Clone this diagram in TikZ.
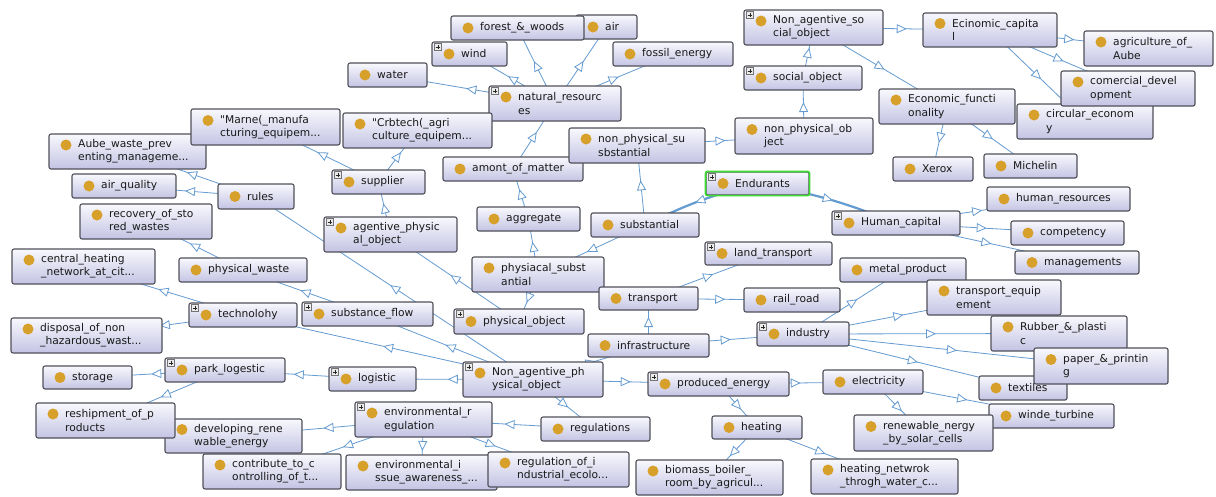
\documentclass[tikz,border=0pt]{standalone}
\usepackage{fontspec}
\newfontfamily\lblfont{DejaVu Sans}
\usetikzlibrary{arrows.meta,decorations.markings,backgrounds}
\definecolor{eblue}{RGB}{100,155,208}
\definecolor{bul}{RGB}{214,160,42}
\definecolor{bord}{RGB}{80,80,90}
\definecolor{ftop}{RGB}{248,248,253}
\definecolor{fbot}{RGB}{196,196,228}
\definecolor{txt}{RGB}{25,25,25}
\definecolor{selgreen}{RGB}{60,220,50}
\tikzset{
  cbox/.style={draw=bord, line width=1.1pt, rounded corners=2pt, top color=ftop, bottom color=fbot, inner sep=0pt},
  dotnode/.style={circle, fill=bul, inner sep=0pt, minimum size=11pt},
  lbl/.style={anchor=west, inner sep=0pt, align=left, text=txt, font=\lblfont\fontsize{10.7}{13.3}\selectfont},
  plusbox/.style={draw=black!55, fill=black!8, line width=0.4pt, minimum size=7pt, inner sep=0pt,
    path picture={\draw[line width=0.7pt, black!85]
      ([xshift=1.4pt]path picture bounding box.west) -- ([xshift=-1.4pt]path picture bounding box.east)
      ([yshift=-1.4pt]path picture bounding box.north) -- ([yshift=1.4pt]path picture bounding box.south);}},
  isa/.style={draw=eblue, line width=0.8pt, postaction={decorate},
    decoration={markings, mark=at position 0.5 with {\arrow[xshift=5pt]{Triangle[length=10pt,width=9pt,fill=white,line width=0.8pt]}}}},
  selarc/.style={isa, line width=2.2pt},
}
% one-line class box: name x1 y1 x2 y2 text
\newcommand\mkone[6]{%
  \node[cbox, minimum width={#4-#2}, minimum height={#5-#3}] (#1) at ({(#2+#4)/2},{(#3+#5)/2}) {};
  \node[dotnode] (#1-d) at ({#2+17},{(#3+#5)/2}) {};
  \node[lbl] (#1-t) at ({#2+29},{(#3+#5)/2}) {#6};
}
% two-line class box
\newcommand\mktwo[6]{%
  \node[cbox, minimum width={#4-#2}, minimum height={#5-#3}] (#1) at ({(#2+#4)/2},{(#3+#5)/2}) {};
  \node[dotnode] (#1-d) at ({#2+17},{(#3+#5)/2-6.5}) {};
  \node[lbl] (#1-t) at ({#2+29},{(#3+#5)/2}) {#6};
}
\newcommand\mkplus[1]{\node[plusbox] (#1-p) at ([xshift=6.5pt,yshift=-5.5pt]#1.north west) {};}
\begin{document}
\begin{tikzpicture}[x=1pt,y=-1pt]
\useasboundingbox (0,0) rectangle (1216,496);
% ---------- nodes ----------
\mkone{water}{348}{63}{427}{87}{water}
\mkone{air}{576}{15}{637}{39}{air}
\mkone{forest}{451}{16}{584}{40}{forest\_\&\_woods}
\mkone{wind}{432}{42}{507}{66}{wind}\mkplus{wind}
\mkone{fossil}{613}{42}{733}{66}{fossil\_energy}
\mktwo{nr}{489}{86}{621}{121}{natural\_resourc\\es}\mkplus{nr}
\mktwo{aube}{49}{134}{206}{169}{Aube\_waste\_prev\\enting\_manageme...}
\mktwo{marne}{191}{109}{340}{145}{"Marne(\_manufa\\cturing\_equipem...}
\mktwo{crb}{343}{113}{492}{148}{"Crbtech(\_agri\\culture\_equipem...}
\mkone{aq}{72}{174}{176}{198}{air\_quality}
\mkone{rules}{218}{184}{294}{209}{rules}
\mkone{supplier}{332}{170}{425}{194}{supplier}\mkplus{supplier}
\mktwo{recovery}{80}{204}{212}{239}{recovery\_of\_sto\\red\_wastes}
\mktwo{apo}{324}{217}{457}{252}{agentive\_physic\\al\_object}\mkplus{apo}
\mkone{amont}{443}{157}{583}{181}{amont\_of\_matter}
\mktwo{nps}{569}{128}{705}{163}{non\_physical\_su\\sbstantial}
\mktwo{npo}{735}{118}{873}{154}{non\_physical\_ob\\ject}
\mkone{so}{744}{66}{862}{90}{social\_object}\mkplus{so}
\mktwo{naso}{744}{10}{883}{45}{Non\_agentive\_so\\cial\_object}\mkplus{naso}
\mktwo{ec}{923}{13}{1057}{47}{Ecinomic\_capita\\l}
\mktwo{aoa}{1084}{31}{1213}{66}{agriculture\_of\_\\Aube}
\mktwo{ce}{1017}{104}{1153}{139}{circular\_econom\\y}
\mktwo{cd}{1061}{71}{1195}{106}{comercial\_devel\\opment}
\mktwo{ef}{879}{89}{1015}{124}{Economic\_functi\\onality}
\mkone{xerox}{893}{157}{973}{181}{Xerox}
\mkone{michelin}{984}{154}{1077}{178}{Michelin}
\mkone{endur}{706}{172}{809}{195}{Endurants}\mkplus{endur}
\draw[selgreen, line width=1.6pt, rounded corners=2pt] (endur.north west) rectangle (endur.south east);
\mkone{aggregate}{477}{207}{580}{231}{aggregate}
\mkone{substantial}{591}{213}{699}{237}{substantial}
\mkone{hr}{987}{187}{1130}{211}{human\_resources}
\mkone{hc}{832}{211}{960}{235}{Human\_capital}\mkplus{hc}
\mkone{comp}{1011}{221}{1124}{245}{competency}
\mkone{mgmt}{1015}{251}{1139}{274}{managements}
\mktwo{ch}{12}{249}{155}{284}{central\_heating\\\_network\_at\_cit...}
\mkone{pw}{179}{258}{307}{282}{physical\_waste}
\mkone{tech}{189}{303}{297}{327}{technolohy}\mkplus{tech}
\mkone{sf}{302}{302}{433}{326}{substance\_flow}\mkplus{sf}
\mktwo{disp}{11}{318}{162}{353}{disposal\_of\_non\\\_hazardous\_wast...}
\mkone{storage}{43}{366}{132}{389}{storage}
\mkone{pl}{165}{358}{285}{382}{park\_logestic}\mkplus{pl}
\mkone{logistic}{329}{367}{416}{391}{logistic}\mkplus{logistic}
\mktwo{dev}{165}{419}{302}{453}{developing\_rene\\wable\_energy}
\mktwo{reship}{36}{403}{175}{438}{reshipment\_of\_p\\roducts}
\mktwo{er}{355}{402}{492}{437}{environmental\_r\\egulation}\mkplus{er}
\mktwo{contrib}{203}{454}{341}{489}{contribute\_to\_c\\ontrolling\_of\_t...}
\mktwo{ei}{346}{455}{497}{490}{environmental\_i\\ssue\_awareness\_...}
\mktwo{ri}{488}{452}{629}{487}{regulation\_of\_i\\ndustrial\_ecolo...}
\mkone{regs}{541}{417}{650}{441}{regulations}
\mktwo{ps}{472}{257}{604}{292}{physiacal\_subst\\antial}
\mkone{po}{454}{309}{584}{334}{physical\_object}\mkplus{po}
\mkone{transport}{599}{287}{698}{310}{transport}
\mkone{lt}{705}{242}{832}{265}{land\_transport}\mkplus{lt}
\mkone{rr}{744}{288}{840}{312}{rail\_road}
\mkone{infra}{588}{334}{709}{357}{infrastructure}
\mkone{industry}{757}{322}{849}{346}{industry}\mkplus{industry}
\mktwo{napo}{463}{362}{603}{397}{Non\_agentive\_ph\\ysical\_object}\mkplus{napo}
\mkone{pe}{648}{372}{789}{396}{produced\_energy}\mkplus{pe}
\mkone{heating}{712}{416}{802}{439}{heating}
\mktwo{biomass}{636}{460}{783}{495}{biomass\_boiler\_\\room\_by\_agricul...}
\mkone{mp}{840}{258}{966}{282}{metal\_product}
\mktwo{te}{927}{280}{1061}{315}{transport\_equip\\ement}
\mktwo{rubber}{991}{316}{1127}{351}{Rubber\_\&\_plasti\\c}
\mkone{textiles}{979}{376}{1067}{400}{textiles}
\mktwo{paper}{1034}{348}{1168}{384}{paper\_\&\_printin\\g}
\mkone{elec}{823}{370}{923}{394}{electricity}
\mkone{wt}{989}{404}{1114}{428}{winde\_turbine}
\mktwo{rs}{854}{415}{993}{451}{renewable\_nergy\\\_by\_solar\_cells}
\mktwo{hn}{811}{459}{958}{494}{heating\_netwrok\\\_throgh\_water\_c...}
% ---------- connectors ----------
\begin{scope}[on background layer]
\fill[white] (0,0) rectangle (1216,496);
\foreach \a/\b in {nr/water, nr/wind, nr/forest, nr/air, nr/fossil,
  amont/nr, aggregate/amont, ps/aggregate,
  supplier/marne, supplier/crb, apo/supplier, po/apo,
  rules/aube, rules/aq, napo/rules,
  pw/recovery, sf/pw, napo/sf,
  tech/ch, tech/disp, napo/tech,
  pl/storage, pl/reship, logistic/pl, napo/logistic,
  er/dev, er/contrib, er/ei, er/ri, regs/er, napo/regs,
  napo/pe, napo/infra,
  pe/elec, pe/heating, heating/biomass, heating/hn, elec/rs, elec/wt,
  infra/transport, infra/industry, transport/lt, transport/rr,
  industry/mp, industry/te, industry/rubber, industry/paper, industry/textiles,
  ps/po, substantial/ps, substantial/nps, nps/npo, npo/so, so/naso,
  naso/ec, ec/aoa, ec/cd, ec/ce, naso/ef, ef/xerox, ef/michelin,
  hc/hr, hc/comp, hc/mgmt}
  {\draw[isa] (\a.center) -- (\b.center);}
\draw[selarc] (endur.center) to[bend right=6] (substantial.center);
\draw[selarc] (endur.center) to[bend left=6] (hc.center);
\end{scope}
\end{tikzpicture}
\end{document}
